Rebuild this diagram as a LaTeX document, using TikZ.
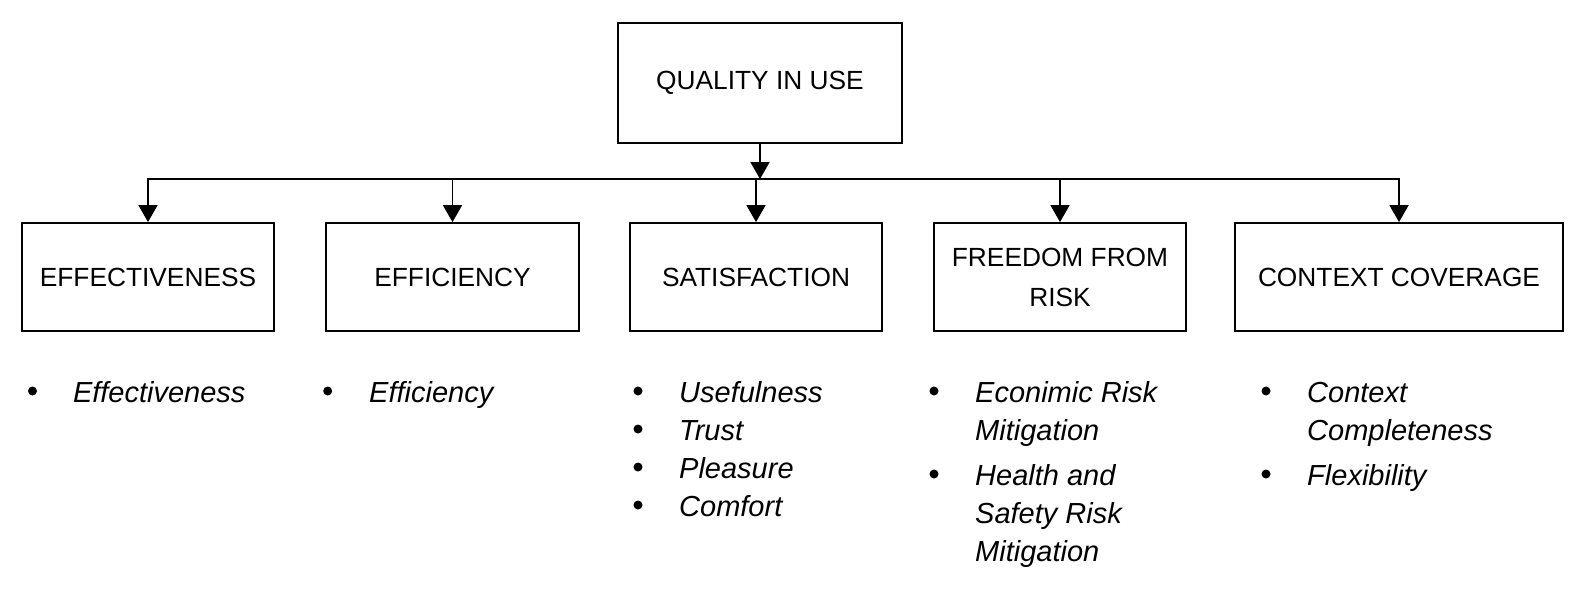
\documentclass[tikz,border=0pt]{standalone}
\usepackage{fontspec}
\setmainfont{Liberation Sans}
\usetikzlibrary{arrows.meta}
\begin{document}
\begin{tikzpicture}[x=1pt,y=-1pt,
  box/.style={draw, line width=1.8pt, inner sep=0pt, minimum height=108pt, align=center,
    font=\fontsize{26.3}{40}\selectfont},
  arr/.style={line width=1.8pt, -{Triangle[width=19pt,length=17pt]}},
  busline/.style={line width=1.8pt, line cap=rect},
  itemtext/.style={anchor=base west, inner sep=0pt,
    font=\fontsize{29}{38}\selectfont\itshape},
  dot/.style={circle, fill, inner sep=0pt, minimum size=9pt}]
\useasboundingbox (0,0) rectangle (1586,589);

% boxes
\node[box, minimum width=284pt, minimum height=120pt] (top) at (760,83) {QUALITY IN USE};
\node[box, minimum width=252pt] (eff)  at (148,277)   {EFFECTIVENESS};
\node[box, minimum width=253pt] (effi) at (452.5,277) {EFFICIENCY};
\node[box, minimum width=252pt] (sat)  at (756,277)   {SATISFACTION};
\node[box, minimum width=252pt] (free) at (1060,277)  {FREEDOM FROM\\RISK};
\node[box, minimum width=328pt] (ctx)  at (1399,277)  {CONTEXT COVERAGE};

% connectors
\coordinate (j) at (760,179);
\draw[busline] (eff.north |- j) -- (ctx.north |- j);
\draw[arr] (top.south) -- (j);
\foreach \n in {eff,effi,sat,free,ctx}
  \draw[arr] (\n.north |- j) -- (\n.north);

% lists
\node[dot] (b11) at (32.5,391) {};
\node[itemtext] (t11) at (72.8,402) {Effectiveness};

\node[dot] (b21) at (327.7,391) {};
\node[itemtext] (t21) at (369,402) {Efficiency};

\node[dot] (b31) at (638,391) {};
\node[dot] (b32) at (638,429) {};
\node[dot] (b33) at (638,467) {};
\node[dot] (b34) at (638,505) {};
\node[itemtext] (t31) at (679,402) {\begin{tabular}[t]{@{}l@{}}Usefulness\\Trust\\Pleasure\\Comfort\end{tabular}};

\node[dot] (b41) at (934,391) {};
\node[dot] (b42) at (934,474) {};
\node[itemtext] (t41) at (975,402) {\begin{tabular}[t]{@{}l@{}}Econimic Risk\\Mitigation\\[7pt]Health and\\Safety Risk\\Mitigation\end{tabular}};

\node[dot] (b51) at (1266,391) {};
\node[dot] (b52) at (1266,474) {};
\node[itemtext] (t51) at (1307,402) {\begin{tabular}[t]{@{}l@{}}Context\\Completeness\\[7pt]Flexibility\end{tabular}};
\end{tikzpicture}
\end{document}
